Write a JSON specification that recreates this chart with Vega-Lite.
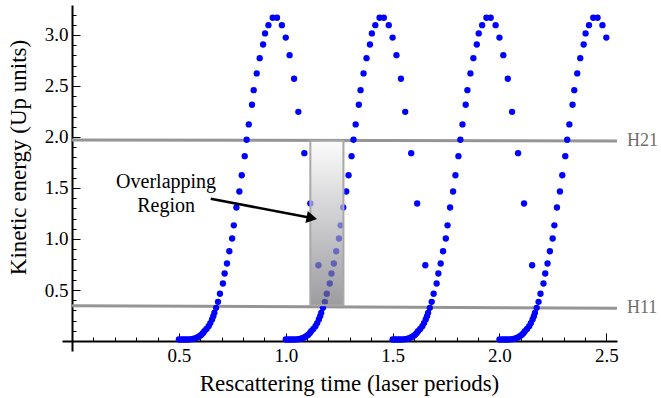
{
  "$schema": "https://vega.github.io/schema/vega-lite/v6.json",
  "width": 555,
  "height": 346,
  "autosize": {"type": "none"},
  "padding": {"left": 62, "top": 5, "right": 44, "bottom": 47},
  "background": "white",
  "config": {"view": {"stroke": null}, "font": "Liberation Serif"},
  "resolve": {"axis": {"x": "independent", "y": "independent"}},
  "datasets": {
    "hlines": [
      {"x1": 0, "x2": 2.55, "y1": 1.971, "y2": 1.961, "label": "H21"},
      {"x1": 0, "x2": 2.55, "y1": 0.346, "y2": 0.322, "label": "H11"}
    ],
    "box": [{"x1": 1.115, "x2": 1.27, "y1": 0.35, "y2": 1.962}],
    "arrow": [{"x1": 0.649, "y1": 1.395, "x2": 1.122, "y2": 1.205}],
    "notes": [
      {"x": 0.44, "y": 1.503, "text": "Overlapping"},
      {"x": 0.44, "y": 1.268, "text": "Region"}
    ],
    "pts": [
      {"t":0.500,"e":0.015},{"t":0.510,"e":0.015},{"t":0.520,"e":0.015},{"t":0.530,"e":0.015},{"t":0.540,"e":0.015},{"t":0.550,"e":0.016},{"t":0.560,"e":0.018},{"t":0.570,"e":0.022},{"t":0.579,"e":0.029},{"t":0.588,"e":0.037},{"t":0.596,"e":0.047},{"t":0.604,"e":0.060},{"t":0.612,"e":0.076},{"t":0.619,"e":0.096},{"t":0.629,"e":0.118},{"t":0.639,"e":0.145},{"t":0.647,"e":0.176},{"t":0.655,"e":0.211},{"t":0.661,"e":0.243},{"t":0.666,"e":0.276},{"t":0.674,"e":0.325},{"t":0.683,"e":0.384},{"t":0.692,"e":0.463},{"t":0.706,"e":0.564},{"t":0.714,"e":0.662},{"t":0.725,"e":0.760},{"t":0.736,"e":0.880},{"t":0.749,"e":1.005},{"t":0.757,"e":1.134},{"t":0.769,"e":1.309},{"t":0.783,"e":1.466},{"t":0.794,"e":1.625},{"t":0.808,"e":1.812},{"t":0.817,"e":1.973},{"t":0.827,"e":2.123},{"t":0.842,"e":2.316},{"t":0.850,"e":2.459},{"t":0.864,"e":2.623},{"t":0.878,"e":2.773},{"t":0.894,"e":2.907},{"t":0.903,"e":3.015},{"t":0.919,"e":3.096},{"t":0.939,"e":3.169},{"t":0.959,"e":3.169},{"t":0.982,"e":3.096},{"t":1.000,"e":2.975},{"t":1.018,"e":2.802},{"t":1.039,"e":2.571},{"t":1.059,"e":2.247},{"t":1.087,"e":1.841},{"t":1.115,"e":1.348},{"t":1.153,"e":0.743},
      {"t":1.000,"e":0.015},{"t":1.010,"e":0.015},{"t":1.020,"e":0.015},{"t":1.030,"e":0.015},{"t":1.040,"e":0.015},{"t":1.050,"e":0.016},{"t":1.060,"e":0.018},{"t":1.070,"e":0.022},{"t":1.079,"e":0.029},{"t":1.088,"e":0.037},{"t":1.096,"e":0.047},{"t":1.104,"e":0.060},{"t":1.112,"e":0.076},{"t":1.119,"e":0.096},{"t":1.129,"e":0.118},{"t":1.139,"e":0.145},{"t":1.147,"e":0.176},{"t":1.155,"e":0.211},{"t":1.161,"e":0.243},{"t":1.166,"e":0.276},{"t":1.174,"e":0.325},{"t":1.183,"e":0.384},{"t":1.192,"e":0.463},{"t":1.206,"e":0.564},{"t":1.214,"e":0.662},{"t":1.225,"e":0.760},{"t":1.236,"e":0.880},{"t":1.249,"e":1.005},{"t":1.257,"e":1.134},{"t":1.269,"e":1.309},{"t":1.283,"e":1.466},{"t":1.294,"e":1.625},{"t":1.308,"e":1.812},{"t":1.317,"e":1.973},{"t":1.327,"e":2.123},{"t":1.342,"e":2.316},{"t":1.350,"e":2.459},{"t":1.364,"e":2.623},{"t":1.378,"e":2.773},{"t":1.394,"e":2.907},{"t":1.403,"e":3.015},{"t":1.419,"e":3.096},{"t":1.439,"e":3.169},{"t":1.459,"e":3.169},{"t":1.482,"e":3.096},{"t":1.500,"e":2.975},{"t":1.518,"e":2.802},{"t":1.539,"e":2.571},{"t":1.559,"e":2.247},{"t":1.587,"e":1.841},{"t":1.615,"e":1.348},{"t":1.653,"e":0.743},
      {"t":1.500,"e":0.015},{"t":1.510,"e":0.015},{"t":1.520,"e":0.015},{"t":1.530,"e":0.015},{"t":1.540,"e":0.015},{"t":1.550,"e":0.016},{"t":1.560,"e":0.018},{"t":1.570,"e":0.022},{"t":1.579,"e":0.029},{"t":1.588,"e":0.037},{"t":1.596,"e":0.047},{"t":1.604,"e":0.060},{"t":1.612,"e":0.076},{"t":1.619,"e":0.096},{"t":1.629,"e":0.118},{"t":1.639,"e":0.145},{"t":1.647,"e":0.176},{"t":1.655,"e":0.211},{"t":1.661,"e":0.243},{"t":1.666,"e":0.276},{"t":1.674,"e":0.325},{"t":1.683,"e":0.384},{"t":1.692,"e":0.463},{"t":1.706,"e":0.564},{"t":1.714,"e":0.662},{"t":1.725,"e":0.760},{"t":1.736,"e":0.880},{"t":1.749,"e":1.005},{"t":1.757,"e":1.134},{"t":1.769,"e":1.309},{"t":1.783,"e":1.466},{"t":1.794,"e":1.625},{"t":1.808,"e":1.812},{"t":1.817,"e":1.973},{"t":1.827,"e":2.123},{"t":1.842,"e":2.316},{"t":1.850,"e":2.459},{"t":1.864,"e":2.623},{"t":1.878,"e":2.773},{"t":1.894,"e":2.907},{"t":1.903,"e":3.015},{"t":1.919,"e":3.096},{"t":1.939,"e":3.169},{"t":1.959,"e":3.169},{"t":1.982,"e":3.096},{"t":2.000,"e":2.975},{"t":2.018,"e":2.802},{"t":2.039,"e":2.571},{"t":2.059,"e":2.247},{"t":2.087,"e":1.841},{"t":2.115,"e":1.348},{"t":2.153,"e":0.743},
      {"t":2.000,"e":0.015},{"t":2.010,"e":0.015},{"t":2.020,"e":0.015},{"t":2.030,"e":0.015},{"t":2.040,"e":0.015},{"t":2.050,"e":0.016},{"t":2.060,"e":0.018},{"t":2.070,"e":0.022},{"t":2.079,"e":0.029},{"t":2.088,"e":0.037},{"t":2.096,"e":0.047},{"t":2.104,"e":0.060},{"t":2.112,"e":0.076},{"t":2.119,"e":0.096},{"t":2.129,"e":0.118},{"t":2.139,"e":0.145},{"t":2.147,"e":0.176},{"t":2.155,"e":0.211},{"t":2.161,"e":0.243},{"t":2.166,"e":0.276},{"t":2.174,"e":0.325},{"t":2.183,"e":0.384},{"t":2.192,"e":0.463},{"t":2.206,"e":0.564},{"t":2.214,"e":0.662},{"t":2.225,"e":0.760},{"t":2.236,"e":0.880},{"t":2.249,"e":1.005},{"t":2.257,"e":1.134},{"t":2.269,"e":1.309},{"t":2.283,"e":1.466},{"t":2.294,"e":1.625},{"t":2.308,"e":1.812},{"t":2.317,"e":1.973},{"t":2.327,"e":2.123},{"t":2.342,"e":2.316},{"t":2.350,"e":2.459},{"t":2.364,"e":2.623},{"t":2.378,"e":2.773},{"t":2.394,"e":2.907},{"t":2.403,"e":3.015},{"t":2.419,"e":3.096},{"t":2.439,"e":3.169},{"t":2.459,"e":3.169},{"t":2.482,"e":3.096},{"t":2.500,"e":2.975}
    ]
  },
  "layer": [
    {
      "data": {"name": "hlines"},
      "mark": {"type": "rule", "color": "#959595", "strokeWidth": 3},
      "encoding": {
        "x": {
          "field": "x1", "type": "quantitative",
          "scale": {"domain": [-0.047, 2.55], "nice": false, "zero": false},
          "axis": {
            "orient": "bottom",
            "title": "Rescattering time (laser periods)",
            "values": [0.5, 1.0, 1.5, 2.0, 2.5],
            "format": ".1f",
            "offset": -10,
            "grid": false,
            "domainColor": "black", "domainWidth": 2,
            "tickColor": "black", "tickWidth": 1, "tickSize": -8,
            "labelFont": "Liberation Serif", "labelFontSize": 19, "labelColor": "black",
            "labelPadding": 13, "labelFlush": false, "labelOverlap": false,
            "titleFont": "Liberation Serif", "titleFontSize": 23, "titleFontWeight": "normal", "titleColor": "black",
            "titleX": 287, "titleY": 49, "titleBaseline": "alphabetic", "titleAlign": "center"
          }
        },
        "x2": {"field": "x2"},
        "y": {
          "field": "y1", "type": "quantitative",
          "scale": {"domain": [-0.098, 3.294], "nice": false, "zero": false},
          "axis": {
            "orient": "left",
            "title": "Kinetic energy (Up units)",
            "values": [0.5, 1.0, 1.5, 2.0, 2.5, 3.0],
            "format": ".1f",
            "offset": -10,
            "grid": false,
            "domainColor": "black", "domainWidth": 2,
            "tickColor": "black", "tickWidth": 1, "tickSize": -8,
            "labelFont": "Liberation Serif", "labelFontSize": 19, "labelColor": "black",
            "labelPadding": 12, "labelFlush": false, "labelOverlap": false,
            "titleFont": "Liberation Serif", "titleFontSize": 23, "titleFontWeight": "normal", "titleColor": "black",
            "titleX": -47, "titleY": 152, "titleAngle": -90, "titleBaseline": "alphabetic", "titleAlign": "center"
          }
        },
        "y2": {"field": "y2"}
      }
    },
    {
      "data": {"name": "hlines"},
      "mark": {"type": "text", "align": "left", "baseline": "middle", "dx": 10, "font": "Liberation Serif", "fontSize": 18, "color": "#6e6e6e"},
      "encoding": {
        "x": {"field": "x2", "type": "quantitative", "axis": null},
        "y": {"field": "y2", "type": "quantitative", "axis": null},
        "text": {"field": "label"}
      }
    },
    {
      "data": {"name": "pts"},
      "mark": {"type": "circle", "color": "#0000ff", "size": 40, "opacity": 1},
      "encoding": {
        "x": {
          "field": "t", "type": "quantitative",
          "axis": {
            "orient": "bottom", "title": null, "labels": false, "domain": false, "grid": false,
            "values": [0.1,0.2,0.3,0.4,0.6,0.7,0.8,0.9,1.1,1.2,1.3,1.4,1.6,1.7,1.8,1.9,2.1,2.2,2.3,2.4],
            "offset": -10, "tickColor": "black", "tickWidth": 1, "tickSize": -4
          }
        },
        "y": {
          "field": "e", "type": "quantitative",
          "axis": {
            "orient": "left", "title": null, "labels": false, "domain": false, "grid": false,
            "values": [0.1,0.2,0.3,0.4,0.6,0.7,0.8,0.9,1.1,1.2,1.3,1.4,1.6,1.7,1.8,1.9,2.1,2.2,2.3,2.4,2.6,2.7,2.8,2.9,3.1,3.2],
            "offset": -10, "tickColor": "black", "tickWidth": 1, "tickSize": -4
          }
        }
      }
    },
    {
      "data": {"name": "box"},
      "mark": {
        "type": "rect",
        "fill": {"gradient": "linear", "x1": 0, "y1": 0, "x2": 0, "y2": 1, "stops": [{"offset": 0, "color": "#fafafa"}, {"offset": 1, "color": "#6c6c74"}]},
        "fillOpacity": 0.68,
        "stroke": "#a8a8a8",
        "strokeWidth": 2
      },
      "encoding": {
        "x": {"field": "x1", "type": "quantitative", "axis": null},
        "x2": {"field": "x2"},
        "y": {"field": "y1", "type": "quantitative", "axis": null},
        "y2": {"field": "y2"}
      }
    },
    {
      "data": {"name": "arrow"},
      "mark": {"type": "rule", "color": "black", "strokeWidth": 2.5},
      "encoding": {
        "x": {"field": "x1", "type": "quantitative", "axis": null},
        "x2": {"field": "x2"},
        "y": {"field": "y1", "type": "quantitative", "axis": null},
        "y2": {"field": "y2"}
      }
    },
    {
      "data": {"name": "arrow"},
      "mark": {"type": "point", "shape": "triangle-right", "filled": true, "color": "black", "size": 150, "angle": 11, "opacity": 1},
      "encoding": {
        "x": {"field": "x2", "type": "quantitative", "axis": null},
        "y": {"field": "y2", "type": "quantitative", "axis": null}
      }
    },
    {
      "data": {"name": "notes"},
      "mark": {"type": "text", "align": "center", "baseline": "alphabetic", "font": "Liberation Serif", "fontSize": 20, "color": "black"},
      "encoding": {
        "x": {"field": "x", "type": "quantitative", "axis": null},
        "y": {"field": "y", "type": "quantitative", "axis": null},
        "text": {"field": "text"}
      }
    }
  ]
}
